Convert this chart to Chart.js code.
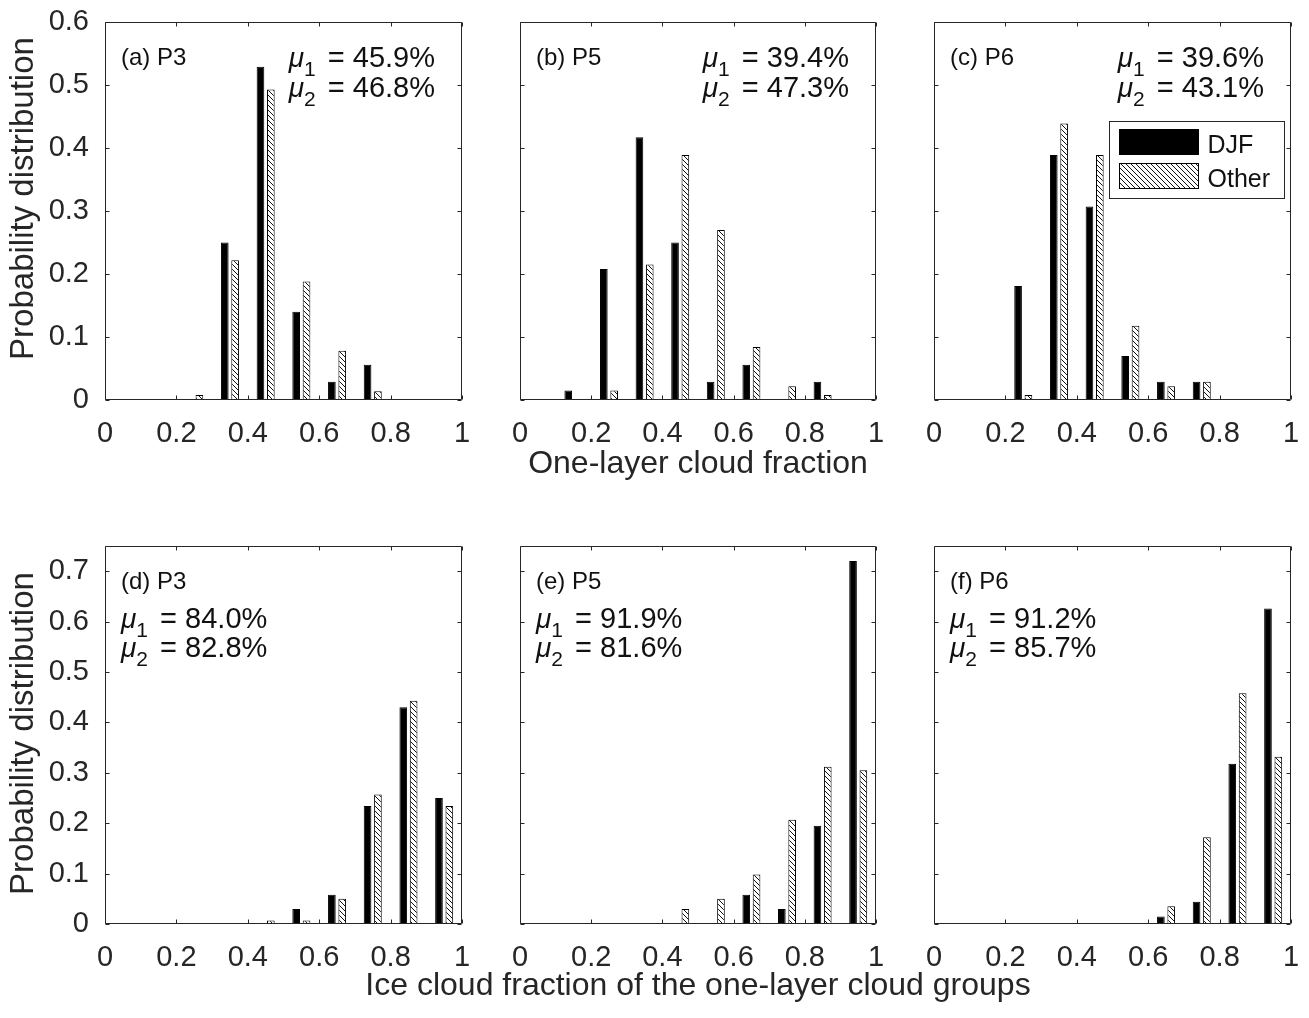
<!DOCTYPE html>
<html><head><meta charset="utf-8">
<script src="https://cdn.jsdelivr.net/npm/chart.js@4/dist/chart.umd.min.js"></script>
<style>
html,body{margin:0;padding:0;background:#fff;}
body{width:1309px;height:1018px;position:relative;overflow:hidden;}
.p{position:absolute;}
canvas{display:block;}
.t{position:absolute;font-family:'Liberation Sans',Arial,Helvetica,sans-serif;color:#262626;white-space:nowrap;text-align:center;}
</style></head><body>
<script>
// ---- data ----
const bins = [0.05, 0.15, 0.25, 0.35, 0.45, 0.55, 0.65, 0.75, 0.85, 0.95];
const xTicks = [0, 0.2, 0.4, 0.6, 0.8, 1];
const yTicksTop = [0, 0.1, 0.2, 0.3, 0.4, 0.5, 0.6];
const yTicksBottom = [0, 0.1, 0.2, 0.3, 0.4, 0.5, 0.6, 0.7];
const seriesNames = ['DJF', 'Other'];

const djfA   = [0, 0, 0, 0.250, 0.529, 0.140, 0.029, 0.056, 0, 0];
const otherA = [0, 0, 0.008, 0.222, 0.493, 0.188, 0.078, 0.014, 0, 0];
const djfB   = [0, 0.015, 0.208, 0.417, 0.250, 0.029, 0.056, 0, 0.029, 0];
const otherB = [0, 0, 0.015, 0.215, 0.389, 0.270, 0.084, 0.022, 0.008, 0];
const djfC   = [0, 0, 0.181, 0.389, 0.307, 0.070, 0.029, 0.029, 0, 0];
const otherC = [0, 0, 0.008, 0.439, 0.389, 0.118, 0.022, 0.029, 0, 0];
const djfD   = [0, 0, 0, 0, 0, 0.030, 0.058, 0.234, 0.430, 0.250];
const otherD = [0, 0, 0, 0, 0.007, 0.007, 0.050, 0.257, 0.443, 0.234];
const djfE   = [0, 0, 0, 0, 0, 0, 0.058, 0.030, 0.195, 0.720];
const otherE = [0, 0, 0, 0, 0.030, 0.050, 0.098, 0.207, 0.312, 0.305];
const djfF   = [0, 0, 0, 0, 0, 0, 0.015, 0.044, 0.318, 0.626];
const otherF = [0, 0, 0, 0, 0, 0, 0.035, 0.172, 0.458, 0.332];

const panelLabels = ['(a) P3', '(b) P5', '(c) P6', '(d) P3', '(e) P5', '(f) P6'];
const mu1Text = ['45.9%', '39.4%', '39.6%', '84.0%', '91.9%', '91.2%'];
const mu2Text = ['46.8%', '47.3%', '43.1%', '82.8%', '81.6%', '85.7%'];
const xTitleTop = 'One-layer cloud fraction';
const xTitleBottom = 'Ice cloud fraction of the one-layer cloud groups';
const yTitle = 'Probability distribution';

// ---- layout ----
const FONT = "'Liberation Sans', Arial, Helvetica, sans-serif";
const TXT = '#262626';
const colL = [105, 520, 934], colR = [462, 876, 1291];
const rowT = [22, 546], rowB = [400, 924];
const MT = 20, MR = 17, MB = 60;

function makeHatch() {
  const t = document.createElement('canvas');
  t.width = 5; t.height = 5;
  const g = t.getContext('2d');
  g.fillStyle = '#fff'; g.fillRect(0, 0, 5, 5);
  g.strokeStyle = '#111'; g.lineWidth = 1;
  g.beginPath();
  g.moveTo(-1, -1); g.lineTo(6, 6);
  g.moveTo(-1, 4); g.lineTo(1, 6);
  g.moveTo(4, -1); g.lineTo(6, 1);
  g.stroke();
  return document.createElement('canvas').getContext('2d').createPattern(t, 'repeat');
}
const hatch = makeHatch();

function fmt(v) { return String(Math.round(v * 10) / 10); }

function drawMu(ctx, x, y, sub, val, align) {
  const muFont = 'italic 28px ' + FONT;
  const subFont = '21px ' + FONT;
  const mainFont = '29px ' + FONT;
  const rest = ' = ' + val;
  ctx.font = muFont; const wMu = ctx.measureText('\u03BC').width;
  ctx.font = subFont; const wSub = ctx.measureText(sub).width;
  ctx.font = mainFont; const wRest = ctx.measureText(rest).width;
  const total = wMu + wSub + 4 + wRest;
  let x0 = align === 'right' ? x - total : x;
  ctx.textAlign = 'left'; ctx.textBaseline = 'alphabetic';
  ctx.font = muFont; ctx.fillText('\u03BC', x0, y);
  ctx.font = subFont; ctx.fillText(sub, x0 + wMu, y + 9);
  ctx.font = mainFont; ctx.fillText(rest, x0 + wMu + wSub + 4, y);
}

const framePlugin = {
  id: 'frame',
  afterDraw(chart) {
    const o = chart.options.plugins.frame;
    const ctx = chart.ctx;
    const {left, right, top, bottom} = chart.chartArea;
    const xs = chart.scales.x, ys = chart.scales.y;
    ctx.save();
    ctx.strokeStyle = TXT; ctx.lineWidth = 1;
    const L = Math.round(left) + 0.5, R = Math.round(right) - 0.5;
    const T = Math.round(top) + 0.5, B = Math.round(bottom) - 0.5;
    ctx.beginPath();
    ctx.rect(L, T, R - L, B - T);
    const TL = 4;
    xs.ticks.forEach(t => {
      const px = Math.round(xs.getPixelForValue(t.value)) + 0.5;
      ctx.moveTo(px, B); ctx.lineTo(px, B - TL);
      ctx.moveTo(px, T); ctx.lineTo(px, T + TL);
    });
    ys.ticks.forEach(t => {
      const py = Math.round(ys.getPixelForValue(t.value)) + 0.5;
      ctx.moveTo(L, py); ctx.lineTo(L + TL, py);
      ctx.moveTo(R, py); ctx.lineTo(R - TL, py);
    });
    ctx.stroke();

    ctx.fillStyle = '#111';
    ctx.textAlign = 'left'; ctx.textBaseline = 'alphabetic';
    ctx.font = '24px ' + FONT;
    ctx.fillText(o.label, left + 16, top + 43);
    if (o.row === 0) {
      drawMu(ctx, right - 27, top + 45, '1', o.mu1, 'right');
      drawMu(ctx, right - 27, top + 75, '2', o.mu2, 'right');
    } else {
      drawMu(ctx, left + 16, top + 82, '1', o.mu1, 'left');
      drawMu(ctx, left + 16, top + 111, '2', o.mu2, 'left');
    }

    if (o.legend) {
      const bx = Math.round(left) + 175.5, by = Math.round(top) + 99.5;
      ctx.fillStyle = '#fff';
      ctx.fillRect(bx, by, 175, 77);
      ctx.strokeStyle = TXT;
      ctx.strokeRect(bx, by, 175, 77);
      const ds = chart.data.datasets;
      const sw = [[bx + 10, by + 8], [bx + 10, by + 42]];
      ds.forEach((d, i) => {
        ctx.fillStyle = d.backgroundColor;
        ctx.fillRect(sw[i][0], sw[i][1], 79, 25);
        ctx.strokeStyle = '#000';
        ctx.strokeRect(sw[i][0], sw[i][1], 79, 25);
        ctx.fillStyle = '#111';
        ctx.font = '25px ' + FONT;
        ctx.fillText(d.label, bx + 98, sw[i][1] + 23);
      });
    }
    ctx.restore();
  }
};

const panels = [
  [djfA, otherA], [djfB, otherB], [djfC, otherC],
  [djfD, otherD], [djfE, otherE], [djfF, otherF]
];

panels.forEach((pair, idx) => {
  const row = Math.floor(idx / 3), col = idx % 3;
  const ml = col === 0 ? colL[0] : 40;
  const L = colL[col], R = colR[col], T = rowT[row], B = rowB[row];
  const w = ml + (R - L) + MR, h = MT + (B - T) + MB;
  const div = document.createElement('div');
  div.className = 'p';
  div.style.left = (L - ml) + 'px'; div.style.top = (T - MT) + 'px';
  div.style.width = w + 'px'; div.style.height = h + 'px';
  const cv = document.createElement('canvas');
  cv.width = w; cv.height = h;
  cv.style.width = w + 'px'; cv.style.height = h + 'px';
  div.appendChild(cv);
  document.body.appendChild(div);
  const yT = row === 0 ? yTicksTop : yTicksBottom;
  const yMax = row === 0 ? 0.6 : 0.75;

  new Chart(cv, {
    type: 'bar',
    data: {
      datasets: [
        {label: seriesNames[0], data: bins.map((b, i) => ({x: b, y: pair[0][i]})),
         backgroundColor: '#000', borderColor: '#000', borderWidth: 1, borderSkipped: false,
         categoryPercentage: 0.58, barPercentage: 0.74},
        {label: seriesNames[1], data: bins.map((b, i) => ({x: b, y: pair[1][i]})),
         backgroundColor: hatch, borderColor: '#000', borderWidth: 1, borderSkipped: false,
         categoryPercentage: 0.58, barPercentage: 0.74}
      ]
    },
    options: {
      responsive: false, animation: false, devicePixelRatio: 1,
      layout: {padding: {top: MT, right: MR, left: 0, bottom: 0}},
      plugins: {
        legend: {display: false}, tooltip: {enabled: false},
        frame: {label: panelLabels[idx], mu1: mu1Text[idx], mu2: mu2Text[idx], row: row, legend: idx === 2}
      },
      scales: {
        x: {
          type: 'linear', min: 0, max: 1, offset: false,
          grid: {display: false}, border: {display: false},
          afterBuildTicks: s => { s.ticks = xTicks.map(v => ({value: v})); },
          afterFit: s => { s.height = MB; s.paddingLeft = 0; s.paddingRight = 0; },
          ticks: {padding: 9, color: TXT, font: {family: FONT, size: 29}, maxRotation: 0, autoSkip: false, callback: v => fmt(v)},
          title: {display: false}
        },
        y: {
          type: 'linear', min: 0, max: yMax,
          grid: {display: false}, border: {display: false},
          afterBuildTicks: s => { s.ticks = yT.map(v => ({value: v})); },
          afterFit: s => { s.width = ml; s.paddingTop = 0; s.paddingBottom = 0; },
          ticks: {display: col === 0, padding: 8, color: TXT, font: {family: FONT, size: 29}, callback: v => fmt(v)},
          title: {display: false}
        }
      }
    },
    plugins: [framePlugin]
  });
});

// axis titles as text
function addText(txt, cx, baseline, size, rotate) {
  const d = document.createElement('div');
  d.className = 't';
  d.textContent = txt;
  d.style.fontSize = size + 'px';
  d.style.lineHeight = size + 'px';
  const W = 800, H = size;
  d.style.width = W + 'px'; d.style.height = H + 'px';
  if (!rotate) {
    d.style.left = (cx - W / 2) + 'px';
    d.style.top = (baseline - Math.round(size * 0.85)) + 'px';
  } else {
    d.style.left = (cx - W / 2) + 'px';
    d.style.top = (baseline - H / 2) + 'px';
    d.style.transform = 'rotate(-90deg)';
  }
  document.body.appendChild(d);
}
addText(xTitleTop, 698, 473, 32, false);
addText(xTitleBottom, 698, 995, 32, false);
addText(yTitle, 21, 198, 33, true);
addText(yTitle, 21, 733, 33, true);
</script>
</body></html>
